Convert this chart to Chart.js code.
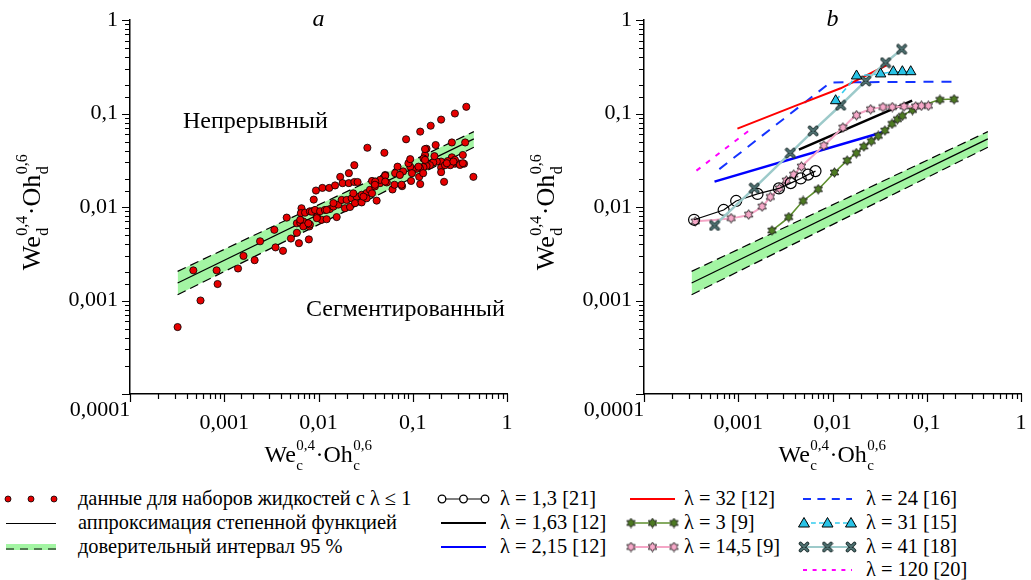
<!DOCTYPE html>
<html>
<head>
<meta charset="utf-8">
<script src="https://cdn.jsdelivr.net/npm/chart.js@4.4.0/dist/chart.umd.min.js"></script>
<style>
html, body { margin: 0; padding: 0; background: #fff; }
body { width: 1031px; height: 580px; position: relative; overflow: hidden; font-family: "Liberation Serif", "Times New Roman", serif; }
canvas { position: absolute; top: 0; }
#chartA { left: 0; }
#chartB { left: 515px; }
.lg-sym { position: absolute; }
.lg-txt { position: absolute; font-size: 20.4px; line-height: 22px; white-space: nowrap; color: #000; }
</style>
</head>
<body>
<canvas id="chartA" width="520" height="475"></canvas>
<canvas id="chartB" width="516" height="475"></canvas>
<div id="legend"></div>
<script>
// tick labels for the decades 1e-4 .. 1
const decadeLabels = ['0,0001', '0,001', '0,01', '0,1', '1'];

// power-law fit and 95 % band
const fitX = [0.00032, 0.445];
const fitY = [0.00154, 0.0535];
const bandUpperY = [0.00205, 0.064];
const bandLowerY = [0.00115, 0.0436];

// panel a: liquids with lambda <= 1
const liquidX = [0.00032, 0.00056, 0.00047, 0.00083, 0.00085, 0.0014, 0.0016, 0.0021, 0.0024, 0.0035,
  0.0042, 0.0034, 0.0051, 0.0059, 0.0062, 0.0079, 0.0046, 0.0059, 0.0094, 0.0089,
  0.0066, 0.0065, 0.0072, 0.0081, 0.009, 0.0096, 0.0076, 0.008, 0.0064, 0.0069,
  0.033, 0.05, 0.024, 0.021, 0.017, 0.011, 0.013, 0.015, 0.018, 0.021,
  0.024, 0.026, 0.037, 0.051, 0.0064, 0.0085, 0.0092, 0.0104, 0.0117, 0.0132,
  0.0144, 0.0162, 0.0176, 0.0199, 0.0225, 0.0254, 0.0287, 0.0324, 0.0352, 0.0397,
  0.045, 0.053, 0.0069, 0.0081, 0.0108, 0.0122, 0.0156, 0.0191, 0.0216, 0.0244,
  0.0287, 0.0414, 0.0324, 0.37, 0.28, 0.20, 0.155, 0.12, 0.085, 0.26,
  0.36, 0.175, 0.14, 0.44, 0.215, 0.12, 0.096, 0.077, 0.061, 0.064,
  0.34, 0.32, 0.35, 0.26, 0.235, 0.2, 0.18, 0.165, 0.152, 0.14,
  0.13, 0.119, 0.11, 0.10, 0.094, 0.09, 0.094, 0.135, 0.13, 0.069,
  0.065, 0.051, 0.045, 0.04, 0.079, 0.073, 0.117, 0.129, 0.2, 0.2,
  0.28, 0.3, 0.25, 0.22, 0.28, 0.135, 0.098, 0.076, 0.051, 0.0397,
  0.037, 0.03, 0.0234, 0.0144, 0.0122, 0.0096, 0.0078, 0.23, 0.27, 0.317,
  0.34, 0.135, 0.17, 0.115];
const liquidY = [0.00052, 0.0010, 0.0021, 0.0021, 0.0015, 0.0022, 0.0030, 0.0027, 0.0043, 0.0037,
  0.0034, 0.0057, 0.0046, 0.0053, 0.0041, 0.0045, 0.0077, 0.0067, 0.015, 0.012,
  0.0097, 0.0086, 0.0087, 0.009, 0.0091, 0.008, 0.0067, 0.0062, 0.0068, 0.007,
  0.043, 0.038, 0.028, 0.023, 0.021, 0.016, 0.016, 0.017, 0.018, 0.018,
  0.0185, 0.0185, 0.019, 0.022, 0.0073, 0.0089, 0.0093, 0.009, 0.0093, 0.0095,
  0.0101, 0.0106, 0.0119, 0.0119, 0.0124, 0.0129, 0.0135, 0.0141, 0.0153, 0.0166,
  0.018, 0.0183, 0.0062, 0.0065, 0.0073, 0.0074, 0.0078, 0.0097, 0.01, 0.011,
  0.0112, 0.0117, 0.0124, 0.118, 0.10, 0.086, 0.074, 0.064, 0.053, 0.049,
  0.049, 0.046, 0.042, 0.021, 0.0186, 0.0176, 0.019, 0.0167, 0.0154, 0.0173,
  0.036, 0.029, 0.029, 0.034, 0.031, 0.0306, 0.0306, 0.030, 0.028, 0.0275,
  0.0267, 0.026, 0.0256, 0.025, 0.027, 0.0294, 0.0325, 0.036, 0.033, 0.027,
  0.023, 0.0216, 0.0195, 0.0187, 0.024, 0.022, 0.021, 0.023, 0.0264, 0.0236,
  0.029, 0.0294, 0.028, 0.028, 0.032, 0.0416, 0.023, 0.0173, 0.0187, 0.0173,
  0.014, 0.0129, 0.014, 0.011, 0.0093, 0.0076, 0.0067, 0.0294, 0.0306, 0.0282,
  0.0294, 0.0319, 0.035, 0.027];

// panel b: other liquid sets
const lam13X = [0.00034, 0.0007, 0.00095, 0.0016, 0.0027, 0.0036, 0.0046, 0.0055, 0.0066];
const lam13Y = [0.0073, 0.0093, 0.0116, 0.0138, 0.0158, 0.018, 0.0202, 0.0222, 0.0242];
const lam163X = [0.0044, 0.07];
const lam163Y = [0.041, 0.137];
const lam215X = [0.00056, 0.034];
const lam215Y = [0.0187, 0.063];
const lam32X = [0.00098, 0.0039, 0.0122, 0.0375];
const lam32Y = [0.069, 0.119, 0.186, 0.328];
const lam3X = [0.00228, 0.00343, 0.00488, 0.00705, 0.0105, 0.0143, 0.0179, 0.0215, 0.0258, 0.0306, 0.036, 0.0428, 0.0488, 0.0551, 0.0705, 0.138, 0.195];
const lam3Y = [0.0056, 0.0078, 0.0116, 0.0155, 0.0234, 0.0314, 0.0377, 0.0443, 0.0506, 0.0577, 0.0657, 0.0775, 0.0869, 0.0942, 0.109, 0.14, 0.142];
const lam145X = [0.00035, 0.00084, 0.00129, 0.00179, 0.00219, 0.00273, 0.00324, 0.00388, 0.00468, 0.0081, 0.0129, 0.018, 0.0254, 0.0343, 0.0431, 0.0574, 0.0764, 0.0877, 0.104];
const lam145Y = [0.007, 0.0076, 0.0083, 0.0101, 0.0128, 0.0158, 0.0192, 0.0222, 0.0271, 0.0454, 0.0707, 0.0959, 0.111, 0.117, 0.117, 0.119, 0.119, 0.121, 0.121];
const lam24X = [0.00063, 0.0095, 0.2];
const lam24Y = [0.0254, 0.215, 0.219];
const lam31X = [0.0108, 0.018, 0.0324, 0.0442, 0.0551, 0.0676];
const lam31Y = [0.137, 0.252, 0.265, 0.28, 0.28, 0.28];
const lam41X = [0.00056, 0.00148, 0.00357, 0.00623, 0.0122, 0.0225, 0.0366, 0.0542];
const lam41Y = [0.00635, 0.0159, 0.0377, 0.0652, 0.1226, 0.223, 0.35, 0.486];
const lam120X = [0.00036, 0.00136];
const lam120Y = [0.0245, 0.068];

// region names in panel a
const regionNotes = [
  { text: 'Непрерывный', x: 0.000365, y: 0.070 },
  { text: 'Сегментированный', x: 0.00736, y: 0.00069 }
];

const xTitle = [{ t: 'We' }, { sub: 'c', sup: '0,4' }, { t: '·Oh' }, { sub: 'c', sup: '0,6' }];
const yTitle = [{ t: 'We' }, { sub: 'd', sup: '0,4' }, { t: '·Oh' }, { sub: 'd', sup: '0,6' }];

const FONT = '"Liberation Serif"';
const pts = (xs, ys) => xs.map((x, i) => ({ x: x, y: ys[i] }));

// marker images
function starImg(fill) {
  const c = document.createElement('canvas');
  c.width = c.height = 11;
  const g = c.getContext('2d');
  const r = 4.8;
  g.beginPath();
  for (let i = 0; i < 12; i++) {
    const a = -Math.PI / 2 + i * Math.PI / 6;
    const rr = i % 2 === 0 ? r : r * 0.58;
    g.lineTo(5.5 + rr * Math.cos(a), 5.5 + rr * Math.sin(a));
  }
  g.closePath();
  g.fillStyle = fill;
  g.fill();
  g.strokeStyle = '#222';
  g.lineWidth = 0.9;
  g.stroke();
  return c;
}
function crossImg() {
  const c = document.createElement('canvas');
  c.width = c.height = 12;
  const g = c.getContext('2d');
  g.lineCap = 'round';
  [['#1e2e2e', 3.6], ['#4f7373', 1.8]].forEach(([col, w]) => {
    g.strokeStyle = col;
    g.lineWidth = w;
    g.beginPath();
    g.moveTo(2.5, 2.5); g.lineTo(9.5, 9.5);
    g.moveTo(9.5, 2.5); g.lineTo(2.5, 9.5);
    g.stroke();
  });
  return c;
}
const greenStar = starImg('#4d7a22');
const pinkStar = starImg('#f7a9c9');
const xMark = crossImg();

const isDecade = v => Math.abs(Math.log10(v) - Math.round(Math.log10(v))) < 1e-6;

// label offset comes from tickLength (marks themselves are drawn by the decor plugin)
function logAxis(isX, boxSize) {
  return {
    type: 'logarithmic',
    min: 0.0001,
    max: 1,
    grid: { display: false, drawTicks: true, tickLength: isX ? 16 : 12 },
    border: { display: true, color: '#000', width: 1.5 },
    ticks: {
      autoSkip: false,
      maxRotation: 0,
      padding: 0,
      color: '#000',
      font: { family: FONT, size: 22 },
      callback: function (v) {
        if (!isDecade(v)) return '';
        const k = Math.round(Math.log10(v));
        if (k === -4) return '';
        return decadeLabels[k + 4];
      }
    },
    afterFit: function (s) {
      if (isX) s.height = boxSize; else s.width = boxSize;
    }
  };
}

function drawMath(ctx, parts, x, y, size) {
  const big = size + 'px ' + FONT;
  const small = Math.round(size * 0.62) + 'px ' + FONT;
  const widths = parts.map(p => {
    if (p.t) { ctx.font = big; return ctx.measureText(p.t).width; }
    ctx.font = small;
    return Math.max(ctx.measureText(p.sub).width, ctx.measureText(p.sup).width) + 1;
  });
  const total = widths.reduce((a, b) => a + b, 0);
  let cx = x - total / 2;
  ctx.textAlign = 'left';
  ctx.textBaseline = 'alphabetic';
  ctx.fillStyle = '#000';
  parts.forEach((p, i) => {
    if (p.t) {
      ctx.font = big;
      ctx.fillText(p.t, cx, y);
    } else {
      ctx.font = small;
      ctx.fillText(p.sub, cx + 0.5, y + size * 0.32);
      ctx.fillText(p.sup, cx + 0.5, y - size * 0.5);
    }
    cx += widths[i];
  });
}

// tick marks, first x label, panel letter, axis titles, notes
const decor = {
  id: 'decor',
  afterDraw(chart, args, opts) {
    const ctx = chart.ctx, xs = chart.scales.x, ys = chart.scales.y, a = chart.chartArea;
    ctx.save();
    ctx.strokeStyle = '#000';
    ctx.lineWidth = 1.2;
    ctx.beginPath();
    xs.ticks.forEach(t => {
      const p = Math.round(xs.getPixelForValue(t.value)) + 0.5;
      ctx.moveTo(p, a.bottom);
      ctx.lineTo(p, a.bottom + (isDecade(t.value) ? 8 : 5));
    });
    ys.ticks.forEach(t => {
      const p = Math.round(ys.getPixelForValue(t.value)) + 0.5;
      ctx.moveTo(a.left, p);
      ctx.lineTo(a.left - (isDecade(t.value) ? 8 : 5), p);
    });
    ctx.stroke();

    // first x label sits left of the origin
    const ref = xs.getLabelItems().find(it => it.label === decadeLabels[1]);
    ctx.font = '22px ' + FONT;
    ctx.fillStyle = '#000';
    ctx.textAlign = 'center';
    ctx.textBaseline = ref ? ref.options.textBaseline : 'top';
    const ly = ref ? ref.options.translation[1] : a.bottom + 16;
    ctx.fillText(decadeLabels[0], xs.getPixelForValue(0.0001) - 30, ly);

    ctx.font = 'italic 24px ' + FONT;
    ctx.textBaseline = 'middle';
    ctx.fillText(opts.letter, (a.left + a.right) / 2, a.top);

    drawMath(ctx, xTitle, (a.left + a.right) / 2, a.bottom + 68, 24);
    ctx.save();
    ctx.translate(a.left - 90, (a.top + a.bottom) / 2 + 5);
    ctx.rotate(-Math.PI / 2);
    drawMath(ctx, yTitle, 0, 0, 26);
    ctx.restore();

    (opts.notes || []).forEach(n => {
      ctx.font = '24px ' + FONT;
      ctx.textAlign = 'left';
      ctx.textBaseline = 'alphabetic';
      ctx.fillText(n.text, xs.getPixelForValue(n.x), ys.getPixelForValue(n.y));
    });
    ctx.restore();
  }
};

const bandFill = '#a3f5a3';
function bandSets() {
  return [
    { data: pts(fitX, fitY), borderColor: '#000', borderWidth: 1.2, pointRadius: 0 },
    { data: pts(fitX, bandUpperY), borderColor: '#000', borderWidth: 1.2, borderDash: [9, 5], pointRadius: 0, fill: '+1', backgroundColor: bandFill },
    { data: pts(fitX, bandLowerY), borderColor: '#000', borderWidth: 1.2, borderDash: [9, 5], pointRadius: 0 }
  ];
}

function options(letter, notes, padRight) {
  return {
    responsive: false,
    animation: false,
    layout: { autoPadding: false, padding: { left: 0, top: 20, right: padRight, bottom: 0 } },
    scales: { x: logAxis(true, 81), y: logAxis(false, letter === 'a' ? 130 : 129) },
    plugins: {
      legend: { display: false },
      tooltip: { enabled: false },
      filler: { drawTime: 'beforeDatasetsDraw' },
      decor: { letter: letter, notes: notes }
    }
  };
}

new Chart(document.getElementById('chartA'), {
  type: 'line',
  data: {
    datasets: [
      { data: pts(liquidX, liquidY), showLine: false, pointRadius: 3.6, pointBackgroundColor: '#e60000', pointBorderColor: '#000', pointBorderWidth: 0.8 }
    ].concat(bandSets())
  },
  options: options('a', regionNotes, 13),
  plugins: [decor]
});

const seriesStyle = {
  lam13: { borderColor: '#000', borderWidth: 1.2, pointStyle: 'circle', pointRadius: 5.5, pointBorderColor: '#000', pointBorderWidth: 1.2, pointBackgroundColor: 'rgba(255,255,255,0)' },
  lam163: { borderColor: '#000', borderWidth: 2.5, pointRadius: 0 },
  lam215: { borderColor: '#0000ff', borderWidth: 2.5, pointRadius: 0 },
  lam32: { borderColor: '#ff0000', borderWidth: 2, pointRadius: 0 },
  lam3: { borderColor: '#5e8f2e', borderWidth: 1.6, pointStyle: greenStar, tension: 0.3 },
  lam145: { borderColor: '#f4a6c6', borderWidth: 2, pointStyle: pinkStar, tension: 0.3 },
  lam24: { borderColor: '#1433ff', borderWidth: 2, borderDash: [10, 8], pointRadius: 0 },
  lam31: { borderColor: '#33ccee', borderWidth: 1.6, borderDash: [6, 4], pointStyle: 'triangle', pointRadius: 6, pointBackgroundColor: '#29c3e6', pointBorderColor: '#000', pointBorderWidth: 1 },
  lam41: { borderColor: '#9dcaca', borderWidth: 2.5, pointStyle: xMark },
  lam120: { borderColor: '#ff00ff', borderWidth: 2, borderDash: [5, 7], pointRadius: 0 }
};

new Chart(document.getElementById('chartB'), {
  type: 'line',
  data: {
    datasets: [
      Object.assign({ data: pts(lam31X, lam31Y) }, seriesStyle.lam31),
      Object.assign({ data: pts(lam41X, lam41Y) }, seriesStyle.lam41),
      Object.assign({ data: pts(lam13X, lam13Y) }, seriesStyle.lam13),
      Object.assign({ data: pts(lam145X, lam145Y) }, seriesStyle.lam145),
      Object.assign({ data: pts(lam3X, lam3Y) }, seriesStyle.lam3),
      Object.assign({ data: pts(lam32X, lam32Y) }, seriesStyle.lam32),
      Object.assign({ data: pts(lam163X, lam163Y) }, seriesStyle.lam163),
      Object.assign({ data: pts(lam215X, lam215Y) }, seriesStyle.lam215),
      Object.assign({ data: pts(lam24X, lam24Y) }, seriesStyle.lam24),
      Object.assign({ data: pts(lam120X, lam120Y) }, seriesStyle.lam120)
    ].concat(bandSets())
  },
  options: options('b', [], 10),
  plugins: [decor]
});

// legend below both panels
const legendRows = [499, 523, 547, 570];
const legendCols = [{ sx: 6, sw: 50, tx: 78 }, { sx: 441, sw: 45, tx: 500 }, { sx: 630, sw: 45, tx: 684 }, { sx: 803, sw: 49, tx: 866 }];
const legendItems = [
  { col: 0, row: 0, text: 'данные для наборов жидкостей с λ ≤ 1', sym: 'dots' },
  { col: 0, row: 1, text: 'аппроксимация степенной функцией', sym: 'fit' },
  { col: 0, row: 2, text: 'доверительный интервал 95 %', sym: 'band' },
  { col: 1, row: 0, text: 'λ = 1,3 [21]', sym: 'lam13' },
  { col: 1, row: 1, text: 'λ = 1,63 [12]', sym: 'lam163' },
  { col: 1, row: 2, text: 'λ = 2,15 [12]', sym: 'lam215' },
  { col: 2, row: 0, text: 'λ = 32 [12]', sym: 'lam32' },
  { col: 2, row: 1, text: 'λ = 3 [9]', sym: 'lam3' },
  { col: 2, row: 2, text: 'λ = 14,5 [9]', sym: 'lam145' },
  { col: 3, row: 0, text: 'λ = 24 [16]', sym: 'lam24' },
  { col: 3, row: 1, text: 'λ = 31 [15]', sym: 'lam31' },
  { col: 3, row: 2, text: 'λ = 41 [18]', sym: 'lam41' },
  { col: 3, row: 3, text: 'λ = 120 [20]', sym: 'lam120' }
];

const legendBox = document.getElementById('legend');
legendItems.forEach(it => {
  const c = legendCols[it.col], y = legendRows[it.row];
  const cv = document.createElement('canvas');
  cv.className = 'lg-sym';
  cv.width = c.sw + 10;
  cv.height = 20;
  cv.style.left = (c.sx - 5) + 'px';
  cv.style.top = (y - 10) + 'px';
  const g = cv.getContext('2d');
  const x0 = 5, x1 = c.sw + 5, xm = (x0 + x1) / 2;
  if (it.sym === 'dots') {
    [x0 + 2, xm, x1 - 2].forEach(px => {
      g.beginPath(); g.arc(px, 10, 3, 0, Math.PI * 2);
      g.fillStyle = '#e60000'; g.fill(); g.strokeStyle = '#000'; g.lineWidth = 0.8; g.stroke();
    });
  } else if (it.sym === 'fit') {
    g.strokeStyle = '#000'; g.lineWidth = 1.2;
    g.beginPath(); g.moveTo(x0, 10.5); g.lineTo(x1, 10.5); g.stroke();
  } else if (it.sym === 'band') {
    g.fillStyle = bandFill; g.fillRect(x0, 7, c.sw, 6);
    g.strokeStyle = '#000'; g.lineWidth = 1.2; g.setLineDash([8, 6]);
    g.beginPath(); g.moveTo(x0, 12); g.lineTo(x1, 12); g.stroke();
  } else {
    const s = seriesStyle[it.sym];
    g.strokeStyle = s.borderColor;
    g.lineWidth = Math.min(s.borderWidth, 2);
    if (s.borderDash) g.setLineDash(s.borderDash.map(d => d * 0.8));
    g.beginPath(); g.moveTo(x0, 10); g.lineTo(x1, 10); g.stroke();
    g.setLineDash([]);
    [x0 + 1, xm, x1 - 1].forEach(px => {
      if (s.pointStyle instanceof HTMLCanvasElement) {
        g.drawImage(s.pointStyle, px - s.pointStyle.width / 2, 10 - s.pointStyle.height / 2);
      } else if (s.pointStyle === 'circle') {
        g.beginPath(); g.arc(px, 10, 3.8, 0, Math.PI * 2);
        g.fillStyle = '#fff'; g.fill(); g.strokeStyle = '#000'; g.lineWidth = 1.3; g.stroke();
      } else if (s.pointStyle === 'triangle') {
        g.beginPath(); g.moveTo(px, 4.5); g.lineTo(px + 5.5, 14); g.lineTo(px - 5.5, 14); g.closePath();
        g.fillStyle = s.pointBackgroundColor; g.fill(); g.strokeStyle = '#000'; g.lineWidth = 1; g.stroke();
      }
    });
  }
  legendBox.appendChild(cv);
  const sp = document.createElement('span');
  sp.className = 'lg-txt';
  sp.textContent = it.text;
  sp.style.left = c.tx + 'px';
  sp.style.top = (y - 12) + 'px';
  legendBox.appendChild(sp);
});
</script>
</body>
</html>
